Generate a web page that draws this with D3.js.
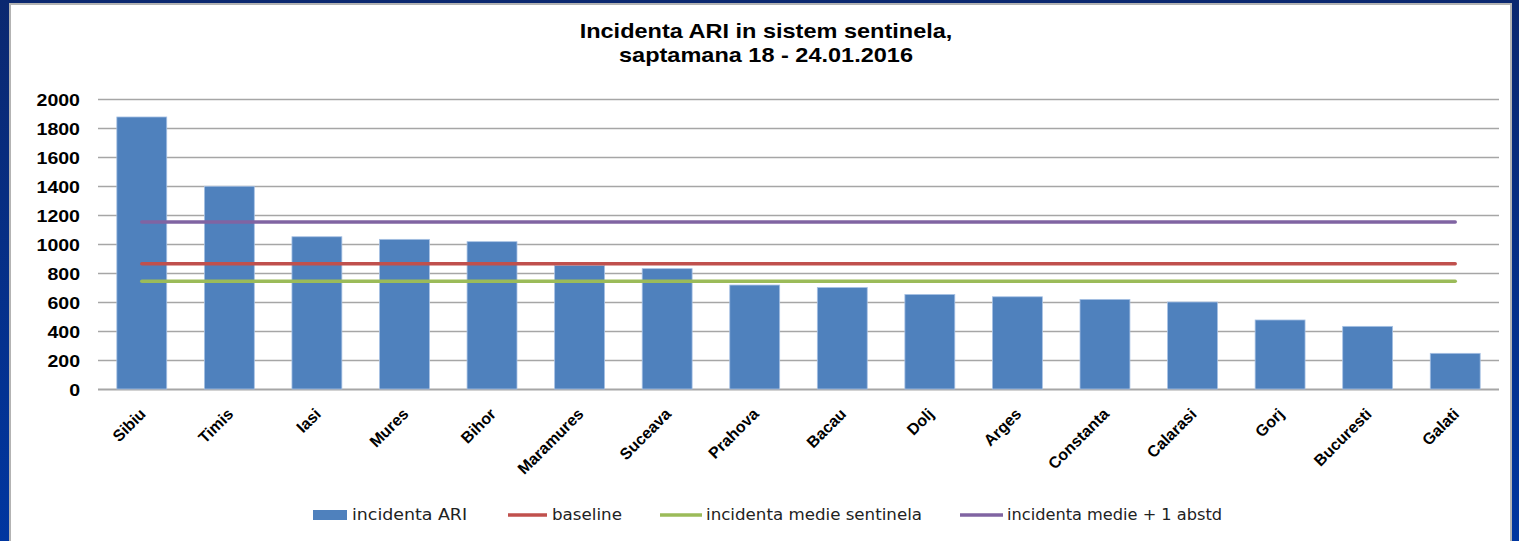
<!DOCTYPE html>
<html>
<head>
<meta charset="utf-8">
<script src="https://cdn.jsdelivr.net/npm/d3@7"></script>
<style>
  body { margin: 0; overflow: hidden; }
  svg { display: block; }
</style>
</head>
<body>
<svg id="chart" width="1519" height="541"></svg>
<script>
// judete, in the order shown
const judete = ["Sibiu", "Timis", "Iasi", "Mures", "Bihor", "Maramures", "Suceava", "Prahova",
  "Bacau", "Dolj", "Arges", "Constanta", "Calarasi", "Gorj", "Bucuresti", "Galati"];

// incidenta ARI per judet
const incidentaARI = [1876, 1398, 1050, 1032, 1016, 852, 830, 717, 700, 652, 636, 618, 600, 476, 432, 246];

// reference lines
const baseline = 864;
const incidentaMedie = 743;
const medieAbstd = 1152;

const yTicks = [0, 200, 400, 600, 800, 1000, 1200, 1400, 1600, 1800, 2000];

const titleLines = ["Incidenta ARI in sistem sentinela,", "saptamana 18 - 24.01.2016"];

const legendNames = ["incidenta ARI", "baseline", "incidenta medie sentinela", "incidenta medie + 1 abstd"];
const lineValues = [baseline, incidentaMedie, medieAbstd];

const colors = {
    bar: "#4f81bd",
    baseline: "#c0504d",
    medie: "#9bbb59",
    abstd: "#8064a2"
};

const svg = d3.select("#chart");

// slide background
const defs = svg.append("defs");
const grad = defs.append("linearGradient")
    .attr("id", "slideBg")
    .attr("x1", "0").attr("y1", "0").attr("x2", "0").attr("y2", "1");
grad.append("stop").attr("offset", "0").attr("stop-color", "#0b2870");
grad.append("stop").attr("offset", "1").attr("stop-color", "#0036a0");

svg.append("rect")
    .attr("width", 1519).attr("height", 541)
    .attr("fill", "url(#slideBg)");

// white chart panel
svg.append("rect")
    .attr("x", 10).attr("y", 4)
    .attr("width", 1501).attr("height", 545)
    .attr("fill", "#ffffff")
    .attr("stroke", "#b3b3b3")
    .attr("stroke-width", 2);

// plot area
const plotLeft = 98, plotRight = 1499, plotTop = 99, plotBottom = 389;

const x = d3.scaleBand()
    .domain(judete)
    .range([plotLeft, plotRight])
    .paddingInner(0.43)
    .paddingOuter(0.215);

const y = d3.scaleLinear()
    .domain([0, 2000])
    .range([plotBottom, plotTop]);

// gridlines
svg.append("g")
    .selectAll("line")
    .data(yTicks)
    .enter()
    .append("line")
    .attr("x1", plotLeft)
    .attr("x2", plotRight)
    .attr("y1", d => Math.round(y(d)) + 0.5)
    .attr("y2", d => Math.round(y(d)) + 0.5)
    .attr("stroke", "#a6a6a6")
    .attr("stroke-width", d => d == 0 ? 2 : 1.5);

// y axis labels
svg.append("g")
    .selectAll("text")
    .data(yTicks)
    .enter()
    .append("text")
    .attr("transform", d => "translate(80," + (y(d) + 6.5) + ") scale(1.15,1)")
    .attr("text-anchor", "end")
    .attr("font-family", "Liberation Sans, Arial, sans-serif")
    .attr("font-weight", "bold")
    .attr("font-size", "17px")
    .attr("fill", "#000")
    .text(d => d);

// bars
svg.append("g")
    .selectAll("rect")
    .data(incidentaARI)
    .enter()
    .append("rect")
    .attr("x", (d, i) => x(judete[i]))
    .attr("y", d => y(d))
    .attr("width", x.bandwidth())
    .attr("height", d => y(0) - y(d))
    .attr("fill", colors.bar)
    .attr("stroke", "#a7c1e4")
    .attr("stroke-width", 0.8);

// horizontal reference lines, from first to last category centre
const lineColors = [colors.baseline, colors.medie, colors.abstd];
const first = x(judete[0]) + x.bandwidth() / 2;
const last = x(judete[judete.length - 1]) + x.bandwidth() / 2;

svg.append("g")
    .selectAll("line")
    .data(lineValues)
    .enter()
    .append("line")
    .attr("x1", first)
    .attr("x2", last)
    .attr("y1", d => y(d))
    .attr("y2", d => y(d))
    .attr("stroke", (d, i) => lineColors[i])
    .attr("stroke-width", 3.5)
    .attr("stroke-linecap", "round");

// category labels, rotated
svg.append("g")
    .selectAll("text")
    .data(judete)
    .enter()
    .append("text")
    .attr("transform", d => "translate(" + (x(d) + x.bandwidth() / 2 + 5) + ",415) rotate(-45)")
    .attr("text-anchor", "end")
    .attr("font-family", "Liberation Sans, Arial, sans-serif")
    .attr("font-weight", "bold")
    .attr("font-size", "16px")
    .attr("fill", "#000")
    .text(d => d);

// title
svg.append("g")
    .selectAll("text")
    .data(titleLines)
    .enter()
    .append("text")
    .attr("transform", (d, i) => "translate(766," + (38 + i * 24) + ") scale(1.12,1)")
    .attr("text-anchor", "middle")
    .attr("font-family", "Liberation Sans, Arial, sans-serif")
    .attr("font-weight", "bold")
    .attr("font-size", "21px")
    .attr("fill", "#000")
    .text(d => d);

// legend
const legendY = 515;
const legendItems = [
    { sym: [313, 347], tx: 352, w: 115 },
    { sym: [508, 547], tx: 552, w: 70 },
    { sym: [660, 702], tx: 706, w: 216 },
    { sym: [960, 1003], tx: 1007, w: 215 }
];
const legendColors = [colors.bar, colors.baseline, colors.medie, colors.abstd];

const legend = svg.append("g");

legendItems.forEach(function (item, i) {

    if (i == 0) {
        legend.append("rect")
            .attr("x", item.sym[0])
            .attr("y", legendY - 5)
            .attr("width", item.sym[1] - item.sym[0])
            .attr("height", 10)
            .attr("fill", legendColors[i]);
    } else {
        legend.append("line")
            .attr("x1", item.sym[0])
            .attr("x2", item.sym[1])
            .attr("y1", legendY)
            .attr("y2", legendY)
            .attr("stroke", legendColors[i])
            .attr("stroke-width", 3.5);
    }

    legend.append("text")
        .attr("x", item.tx)
        .attr("y", legendY + 5)
        .attr("font-family", "Liberation Sans Narrow, DejaVu Sans Condensed, Arial, sans-serif")
        .attr("font-size", "16px")
        .attr("fill", "#222")
        .attr("textLength", item.w)
        .attr("lengthAdjust", "spacingAndGlyphs")
        .text(legendNames[i]);
})
</script>
</body>
</html>
